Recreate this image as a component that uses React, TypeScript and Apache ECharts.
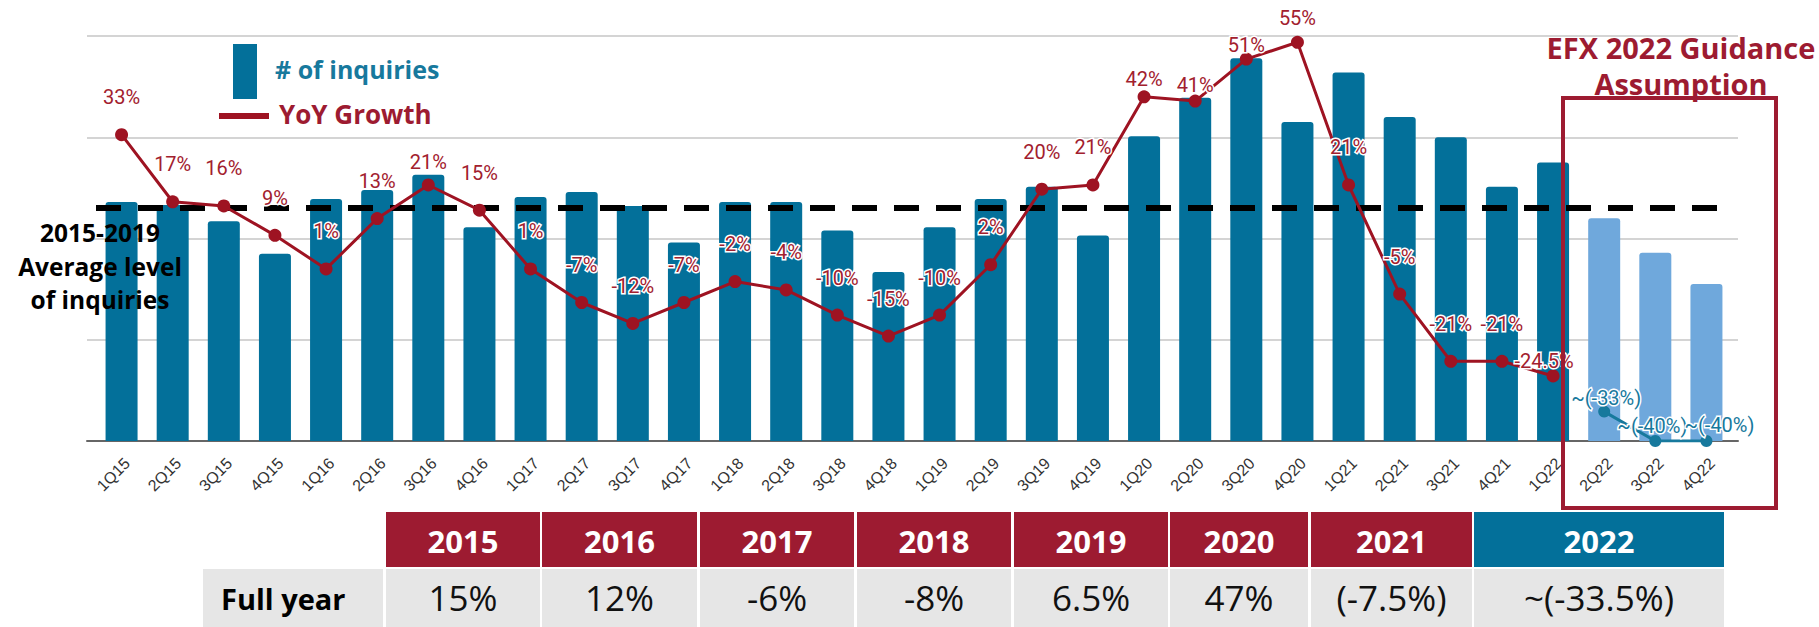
import React, { useEffect, useRef } from "react";
import * as echarts from "echarts";

// ---------- data ----------
const quarters = [
  "1Q15", "2Q15", "3Q15", "4Q15",
  "1Q16", "2Q16", "3Q16", "4Q16",
  "1Q17", "2Q17", "3Q17", "4Q17",
  "1Q18", "2Q18", "3Q18", "4Q18",
  "1Q19", "2Q19", "3Q19", "4Q19",
  "1Q20", "2Q20", "3Q20", "4Q20",
  "1Q21", "2Q21", "3Q21", "4Q21",
  "1Q22", "2Q22", "3Q22", "4Q22",
];

// # of inquiries (index)
const inquiries = [
  236, 233, 217, 185,
  239, 248, 263, 211,
  241, 246, 232, 196,
  236, 236, 208, 167,
  211, 239, 251, 203,
  301, 339, 378, 315,
  364, 320, 300, 251,
  275, 220, 186, 155,
];

// YoY growth, actuals (%)
const yoyGrowth = [
  33, 17, 16, 9,
  1, 13, 21, 15,
  1, -7, -12, -7,
  -2, -4, -10, -15,
  -10, 2, 20, 21,
  42, 41, 51, 55,
  21, -5, -21, -21,
  -24.5,
];

// YoY growth, 2022 guidance assumption (%)
const guidanceQuarters = ["2Q22", "3Q22", "4Q22"];
const yoyGuidance = [-33, -40, -40];

// 2015-2019 average level of inquiries
const averageLevel = 230;
const averageLabelLines = ["2015-2019", "Average level", "of inquiries"];

// Full-year table
const tableYears = ["2015", "2016", "2017", "2018", "2019", "2020", "2021", "2022"];
const fullYearGrowth = ["15%", "12%", "-6%", "-8%", "6.5%", "47%", "(-7.5%)", "~(-33.5%)"];

// ---------- styling / layout ----------
const BLUE = "#03709a";
const LIGHT_BLUE = "#6fa8dc";
const TEAL = "#17799d";
const RED = "#9d1b31";
const LINE_RED = "#9e1322";
const LABEL_RED = "#a2202e";
const GRAY_CELL = "#e6e6e6";

const actualLabelOffsets: Record<number, [number, number]> = {
  6: [0, 15],
  20: [0, 20],
  21: [0, 21],
  22: [0, 23],
  23: [0, 13],
  28: [-9, 23],
};
const guidanceLabelOffsets: [number, number][] = [
  [2, 23],
  [-3, 22],
  [13, 21],
];

const tableCols = [
  { x: 386, w: 154 },
  { x: 542, w: 155 },
  { x: 700, w: 154 },
  { x: 857, w: 154 },
  { x: 1014, w: 154 },
  { x: 1170, w: 138 },
  { x: 1311, w: 161 },
  { x: 1474, w: 250 },
];

export default function App() {
  const ref = useRef<HTMLDivElement>(null);

  useEffect(() => {
    if (!ref.current) return;
    const chart = echarts.init(ref.current, undefined, { renderer: "svg" });

    const guidanceStart = quarters.length - yoyGuidance.length;

    const tableGraphics: any[] = [];
    tableGraphics.push({
      type: "rect",
      shape: { x: 203, y: 569, width: 180, height: 58 },
      style: { fill: GRAY_CELL },
    });
    tableGraphics.push({
      type: "text",
      x: 221,
      y: 598,
      style: {
        text: "Full year",
        fontFamily: "Open Sans",
        fontWeight: "bold",
        fontSize: 29,
        fill: "#000",
        textAlign: "left",
        textVerticalAlign: "middle",
      },
    });
    tableYears.forEach((yr, i) => {
      const c = tableCols[i];
      const isForecast = i === tableYears.length - 1;
      tableGraphics.push({
        type: "rect",
        shape: { x: c.x, y: 512, width: c.w, height: 55 },
        style: { fill: isForecast ? BLUE : RED },
      });
      tableGraphics.push({
        type: "text",
        x: c.x + c.w / 2,
        y: 541,
        style: {
          text: yr,
          fontFamily: "Open Sans",
          fontWeight: "bold",
          fontSize: 31,
          fill: "#fff",
          textAlign: "center",
          textVerticalAlign: "middle",
        },
      });
      tableGraphics.push({
        type: "rect",
        shape: { x: c.x, y: 569, width: c.w, height: 58 },
        style: { fill: GRAY_CELL },
      });
      tableGraphics.push({
        type: "text",
        x: c.x + c.w / 2,
        y: 597,
        style: {
          text: fullYearGrowth[i],
          fontFamily: "Open Sans",
          fontSize: 35,
          fill: "#111",
          textAlign: "center",
          textVerticalAlign: "middle",
        },
      });
    });

    const averageGraphics = averageLabelLines.map((t, i) => ({
      type: "text",
      x: 100,
      y: 232.5 + i * 33.5,
      style: {
        text: t,
        fontFamily: "Open Sans",
        fontWeight: "bold",
        fontSize: 24.5,
        fill: "#000",
        textAlign: "center",
        textVerticalAlign: "middle",
      },
      z: 100,
    }));

    const option: any = {
      animation: false,
      backgroundColor: "#fff",
      grid: [
        { left: 96, right: 87, top: 36, height: 405 },
        { left: 87, right: 81, top: 36, height: 405 },
      ],
      xAxis: [
        {
          type: "category",
          gridIndex: 0,
          data: quarters,
          axisLine: { show: false },
          axisTick: { show: false },
          axisLabel: {
            show: true,
            interval: 0,
            rotate: 45,
            margin: 14,
            verticalAlign: "top",
            fontFamily: "Liberation Sans",
            fontSize: 16,
            color: "#333",
          },
        },
        {
          type: "value",
          gridIndex: 1,
          min: 0,
          max: 1,
          axisLine: { show: true, lineStyle: { color: "#666", width: 2 } },
          axisTick: { show: false },
          axisLabel: { show: false },
          splitLine: { show: false },
        },
      ],
      yAxis: [
        {
          type: "value",
          gridIndex: 0,
          min: 0,
          max: 400,
          interval: 100,
          axisLine: { show: false },
          axisTick: { show: false },
          axisLabel: { show: false },
          splitLine: { show: false },
        },
        {
          type: "value",
          gridIndex: 1,
          min: 0,
          max: 400,
          interval: 100,
          axisLine: { show: false },
          axisTick: { show: false },
          axisLabel: { show: false },
          splitLine: { show: true, lineStyle: { color: "#d4d4d4", width: 2 } },
        },
        {
          type: "value",
          gridIndex: 0,
          min: -40,
          max: 56.5,
          show: false,
          splitLine: { show: false },
        },
      ],
      series: [
        {
          type: "bar",
          name: "# of inquiries",
          xAxisIndex: 0,
          yAxisIndex: 0,
          barWidth: 32,
          data: inquiries.map((v, i) => ({
            value: v,
            itemStyle: { color: i >= guidanceStart ? LIGHT_BLUE : BLUE },
          })),
          itemStyle: { borderRadius: [3, 3, 0, 0] },
          markLine: {
            silent: true,
            symbol: "none",
            label: { show: false },
            lineStyle: { color: "#000", type: [25, 17], width: 6 },
            data: [{ yAxis: averageLevel }],
          },
          z: 2,
        },
        {
          type: "line",
          name: "YoY Growth",
          xAxisIndex: 0,
          yAxisIndex: 2,
          symbol: "circle",
          symbolSize: 13,
          lineStyle: { color: LINE_RED, width: 3 },
          itemStyle: { color: LINE_RED },
          data: yoyGrowth.map((v, i) =>
            actualLabelOffsets[i]
              ? { value: v, label: { offset: actualLabelOffsets[i] } }
              : { value: v }
          ),
          label: {
            show: true,
            position: "top",
            distance: 21,
            formatter: (p: any) => `${p.value}%`,
            fontFamily: "Roboto",
            fontSize: 20,
            lineHeight: 20,
            color: LABEL_RED,
            textBorderColor: "#fff",
            textBorderWidth: 3,
          },
          z: 5,
        },
        {
          type: "line",
          name: "YoY Guidance",
          xAxisIndex: 0,
          yAxisIndex: 2,
          symbol: "circle",
          symbolSize: 12,
          lineStyle: { color: TEAL, width: 3 },
          itemStyle: { color: TEAL },
          data: yoyGuidance.map((v, i) => ({
            value: [guidanceQuarters[i], v],
            label: { offset: guidanceLabelOffsets[i] },
          })),
          label: {
            show: true,
            position: "top",
            distance: 21,
            formatter: (p: any) => `~(${Array.isArray(p.value) ? p.value[1] : p.value}%)`,
            fontFamily: "Roboto",
            fontSize: 20,
            lineHeight: 20,
            color: TEAL,
            textBorderColor: "#fff",
            textBorderWidth: 3,
          },
          z: 5,
        },
      ],
      graphic: [
        // legend
        {
          type: "rect",
          shape: { x: 233, y: 44, width: 24, height: 55 },
          style: { fill: BLUE },
          z: 100,
        },
        {
          type: "text",
          x: 275,
          y: 69,
          style: {
            text: "# of inquiries",
            fontFamily: "Open Sans",
            fontWeight: "bold",
            fontSize: 25,
            fill: TEAL,
            textAlign: "left",
            textVerticalAlign: "middle",
          },
          z: 100,
        },
        {
          type: "line",
          shape: { x1: 219, y1: 116, x2: 269, y2: 116 },
          style: { stroke: LINE_RED, lineWidth: 6 },
          z: 100,
        },
        {
          type: "text",
          x: 279,
          y: 114,
          style: {
            text: "YoY Growth",
            fontFamily: "Open Sans",
            fontWeight: "bold",
            fontSize: 26,
            fill: RED,
            textAlign: "left",
            textVerticalAlign: "middle",
          },
          z: 100,
        },
        ...averageGraphics,
        // guidance box
        {
          type: "rect",
          shape: { x: 1563, y: 98, width: 213, height: 410 },
          style: { fill: "none", stroke: RED, lineWidth: 4 },
          z: 100,
        },
        {
          type: "text",
          x: 1681,
          y: 47,
          style: {
            text: "EFX 2022 Guidance",
            fontFamily: "Open Sans",
            fontWeight: "bold",
            fontSize: 29,
            fill: RED,
            textAlign: "center",
            textVerticalAlign: "middle",
          },
          z: 100,
        },
        {
          type: "text",
          x: 1681,
          y: 83,
          style: {
            text: "Assumption",
            fontFamily: "Open Sans",
            fontWeight: "bold",
            fontSize: 29,
            fill: RED,
            textAlign: "center",
            textVerticalAlign: "middle",
          },
          z: 100,
        },
        ...tableGraphics,
      ],
    };

    chart.setOption(option);
    return () => chart.dispose();
  }, []);

  return (
    <div
      ref={ref}
      style={{ position: "absolute", left: 0, top: 0, width: 1819, height: 627 }}
    />
  );
}
